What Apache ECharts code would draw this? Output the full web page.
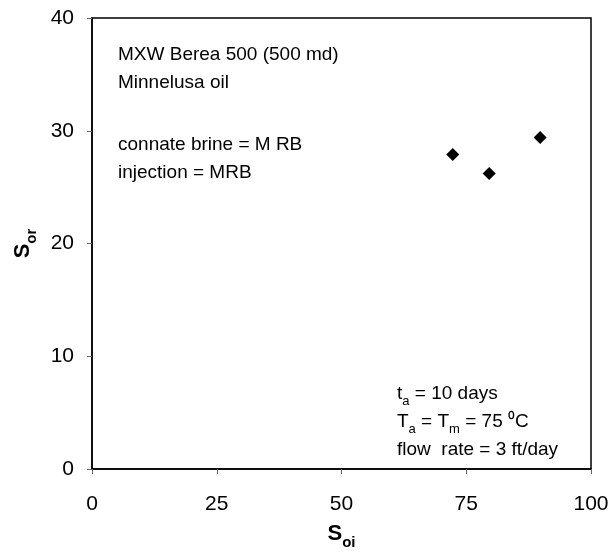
<!DOCTYPE html>
<html><head><meta charset="utf-8">
<script src="https://cdn.jsdelivr.net/npm/echarts@6/dist/echarts.min.js"></script>
<style>html,body{margin:0;padding:0;background:#fff}#c{width:613px;height:555px}</style>
</head><body><div id="c"></div>
<script>
const soi = [72.3, 79.6, 89.8];
const sor = [27.9, 26.2, 29.4];
const xTicks = [0, 25, 50, 75, 100];
const yTicks = [0, 10, 20, 30, 40];

const F = '"Liberation Sans", Arial, sans-serif';
const chart = echarts.init(document.getElementById('c'));
const txt = (x, y, str) => ({
  type: 'text', left: x, top: y,
  style: { text: str, rich: rich, font: '19px ' + F, fill: '#000' }
});
const rich = {
  n: { fontSize: 19, fontFamily: F, color: '#000', lineHeight: 24, verticalAlign: 'bottom' },
  s: { fontSize: 13, fontFamily: F, color: '#000', lineHeight: 24, verticalAlign: 'bottom', padding: [0,0,-5,0] }
};
const nameRich = {
  b: { fontSize: 22, fontWeight: 'bold', fontFamily: F, color: '#000', lineHeight: 24, verticalAlign: 'bottom' },
  s: { fontSize: 15, fontWeight: 'bold', fontFamily: F, color: '#000', lineHeight: 24, verticalAlign: 'bottom', padding: [0,0,-5,0] }
};
chart.setOption({
  animation: false,
  grid: { left: 92, top: 18, right: 22, bottom: 86, show: true, borderColor: '#000', borderWidth: 1.5 },
  xAxis: {
    type: 'value', min: 0, max: 100, interval: 25,
    axisLine: { onZero: false, lineStyle: { color: '#000', width: 1.5 } },
    axisTick: { show: true, length: 5, lineStyle: { color: '#666' } },
    splitLine: { show: false },
    axisLabel: { fontSize: 21, fontFamily: F, color: '#000', margin: 25,
      formatter: v => xTicks.includes(v) ? String(v) : '' },
    name: '{b|S}{s|oi}', nameLocation: 'middle', nameGap: 52,
    nameTextStyle: { rich: nameRich }
  },
  yAxis: {
    type: 'value', min: 0, max: 40, interval: 10,
    axisLine: { onZero: false, lineStyle: { color: '#000', width: 1.5 } },
    axisTick: { show: true, length: 5, lineStyle: { color: '#666' } },
    splitLine: { show: false },
    axisLabel: { fontSize: 21, fontFamily: F, color: '#000', margin: 18,
      formatter: v => yTicks.includes(v) ? String(v) : '' },
    name: '{b|S}{s|or}', nameLocation: 'middle', nameGap: 58, nameRotate: 90,
    nameTextStyle: { rich: nameRich }
  },
  series: [{
    type: 'scatter', symbol: 'diamond', symbolSize: 13,
    itemStyle: { color: '#000', opacity: 1 },
    data: soi.map((x, i) => [x, sor[i]])
  }],
  graphic: [
    txt(118, 45, '{n|MXW Berea 500 (500 md)}'),
    txt(118, 73, '{n|Minnelusa oil}'),
    txt(118, 135, '{n|connate brine = M RB}'),
    txt(118, 163, '{n|injection = MRB}'),
    txt(397, 384, '{n|t}{s|a}{n| = 10 days}'),
    txt(397, 412, '{n|T}{s|a}{n| = T}{s|m}{n| = 75 \u2070C}'),
    txt(397, 440, '{n|flow  rate = 3 ft/day}')
  ]
});
</script></body></html>
